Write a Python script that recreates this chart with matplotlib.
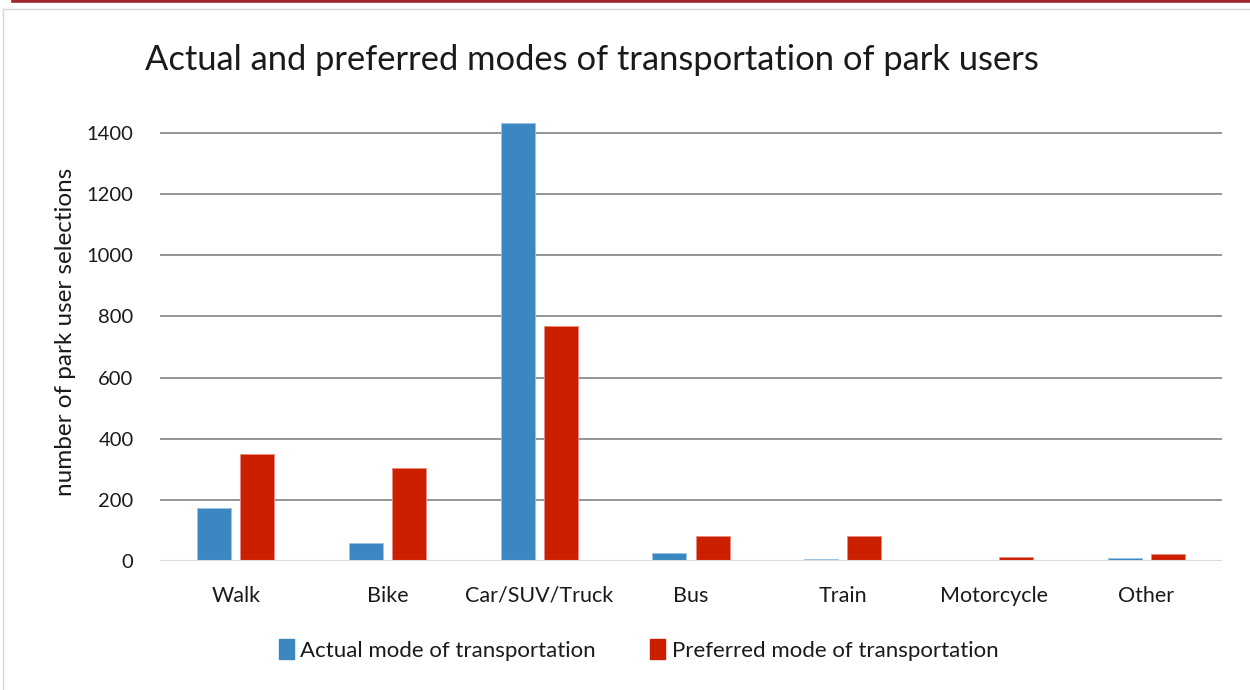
import numpy as np
import matplotlib.pyplot as plt
from matplotlib.lines import Line2D
from matplotlib.patches import Patch

plt.rcParams['font.family'] = ['Lato', 'DejaVu Sans']

categories = ['Walk', 'Bike', 'Car/SUV/Truck', 'Bus', 'Train', 'Motorcycle', 'Other']
actual = [173, 59, 1434, 25, 5, 4, 9]
preferred = [349, 304, 770, 83, 81, 13, 23]
series_names = ['Actual mode of transportation', 'Preferred mode of transportation']
yticks = [0, 200, 400, 600, 800, 1000, 1200, 1400]

blue = '#3a87c1'
red = '#cc1f00'

fig = plt.figure(figsize=(12.5, 6.9), dpi=100)

# frame decoration
fig.add_artist(Line2D([0.0104, 1.0], [0.998, 0.998], color='#a0282c', lw=2.6, transform=fig.transFigure))
fig.add_artist(Line2D([0.0024, 1.0], [0.987, 0.987], color='#d6d6d6', lw=1.0, transform=fig.transFigure))
fig.add_artist(Line2D([0.0024, 0.0024], [0.0, 0.987], color='#d6d6d6', lw=1.0, transform=fig.transFigure))

ax = fig.add_axes([0.128, 0.187, 0.8496, 0.6646])
x = np.arange(len(categories))
w = 0.224
off = 0.142
ax.bar(x - off, actual, w, color=blue, edgecolor='#9cc3e4', linewidth=0.6, zorder=3)
ax.bar(x + off, preferred, w, color=red, edgecolor='#ea8a80', linewidth=0.6, zorder=3)

ax.set_xlim(-0.5, len(categories) - 0.5)
ax.set_ylim(0, 1500)
ax.set_yticks(yticks)
ax.set_xticks(x)
ax.set_xticklabels(categories)
for v in yticks[1:]:
    ax.axhline(v, color='#8c8c8c', lw=1.3, zorder=1)
ax.axhline(0, color='#d9d9d9', lw=1.5, zorder=4)
for s in ax.spines.values():
    s.set_visible(False)
ax.tick_params(axis='both', length=0, colors='#1a1a1a')
ax.tick_params(axis='y', pad=19, labelsize=14.5)
ax.tick_params(axis='x', pad=18, labelsize=15.5)
ax.set_ylabel('number of park user selections', fontsize=17.5, color='#1a1a1a', labelpad=8)

fig.text(0.116, 0.913, 'Actual and preferred modes of transportation of park users',
         fontsize=24.8, color='#1a1a1a', va='center', ha='left')

handles = [Patch(color=blue), Patch(color=red)]
fig.legend(handles, series_names, loc='center', bbox_to_anchor=(0.511, 0.058), ncol=2,
           frameon=False, fontsize=16, handlelength=0.65, handleheight=1.0,
           handletextpad=0.3, columnspacing=2.45, labelcolor='#1a1a1a')

fig.savefig('out.png', dpi=100, facecolor='white')
